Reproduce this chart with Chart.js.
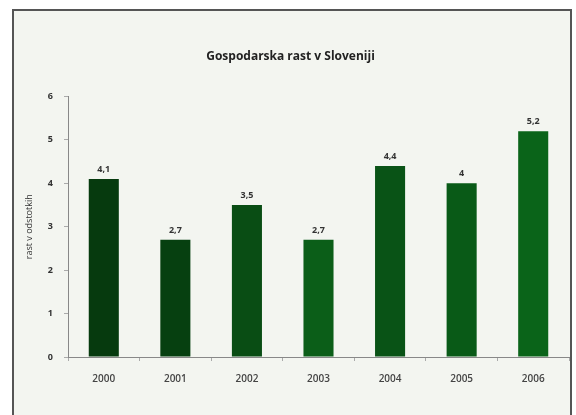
<!DOCTYPE html>
<html>
<head>
<meta charset="utf-8">
<script src="https://cdn.jsdelivr.net/npm/chart.js@4"></script>
<style>
    html, body { margin: 0; padding: 0; background: #ffffff; }
    #wrap { width: 576px; height: 415px; }
</style>
</head>
<body>
<div id="wrap"><canvas id="chart" width="576" height="415"></canvas></div>
<script>
const leta = ["2000", "2001", "2002", "2003", "2004", "2005", "2006"];
const rast = [4.1, 2.7, 3.5, 2.7, 4.4, 4, 5.2];
const oznake = ["4,1", "2,7", "3,5", "2,7", "4,4", "4", "5,2"];
const yTicks = [0, 1, 2, 3, 4, 5, 6];

const barve = ["#063a0e", "#064010", "#094d14", "#0b5e18", "#095316", "#095a17", "#0a6419"];

// okvir in ozadje
const okvir = {
    id: "okvir",
    beforeDraw(chart) {
        const c = chart.ctx;
        c.save();
        c.fillStyle = "#ffffff";
        c.fillRect(0, 0, chart.width, chart.height);
        c.fillStyle = "#f3f5f0";
        c.fillRect(12, 10, 560, 405);
        c.strokeStyle = "#555555";
        c.lineWidth = 2;
        c.beginPath();
        c.moveTo(13, 415);
        c.lineTo(13, 10);
        c.lineTo(571, 10);
        c.lineTo(571, 415);
        c.stroke();
        c.restore();
    }
};

// vrednosti nad stolpci
const vrednosti = {
    id: "vrednosti",
    afterDatasetsDraw(chart) {
        const c = chart.ctx;
        const meta = chart.getDatasetMeta(0);
        c.save();
        c.font = "bold 9px 'Open Sans', sans-serif";
        c.fillStyle = "#333333";
        c.textAlign = "center";
        c.textBaseline = "bottom";
        meta.data.forEach((bar, i) => {
            c.fillText(oznake[i], bar.x, bar.y - 5);
        });
        c.restore();
    }
};

new Chart(document.getElementById("chart"), {
    type: "bar",
    data: {
        labels: leta,
        datasets: [{
            data: rast,
            backgroundColor: barve,
            borderWidth: 0,
            barPercentage: 0.42,
            categoryPercentage: 1
        }]
    },
    options: {
        responsive: false,
        animation: false,
        layout: { padding: { left: 12, right: 7, top: 0, bottom: 18 } },
        plugins: {
            legend: { display: false },
            tooltip: { enabled: false },
            title: {
                display: true,
                text: "Gospodarska rast v Sloveniji",
                color: "#222222",
                font: { family: "'Open Sans', sans-serif", size: 12, weight: "bold", lineHeight: 1.2 },
                padding: { top: 49, bottom: 33 }
            }
        },
        scales: {
            x: {
                grid: { drawOnChartArea: false, drawTicks: true, tickLength: 4, color: "#aaaaaa" },
                border: { color: "#888888" },
                ticks: { color: "#444444", padding: 12, font: { family: "'Open Sans', sans-serif", size: 10, weight: "600" } },
                afterFit(axis) { axis.height = 40; }
            },
            y: {
                min: 0,
                max: 6,
                afterBuildTicks(axis) { axis.ticks = yTicks.map(v => ({ value: v })); },
                grid: { drawOnChartArea: false, drawTicks: true, tickLength: 4, color: "#aaaaaa" },
                border: { color: "#888888" },
                ticks: { color: "#333333", padding: 11, font: { family: "'Open Sans', sans-serif", size: 9, weight: "bold" } },
                title: {
                    display: true,
                    text: "rast v odstotkih",
                    color: "#333333",
                    font: { family: "'Open Sans', sans-serif", size: 9 },
                    padding: { top: 12, bottom: 0 }
                },
                afterFit(axis) { axis.width = 56; }
            }
        }
    },
    plugins: [okvir, vrednosti]
});
</script>
</body>
</html>
